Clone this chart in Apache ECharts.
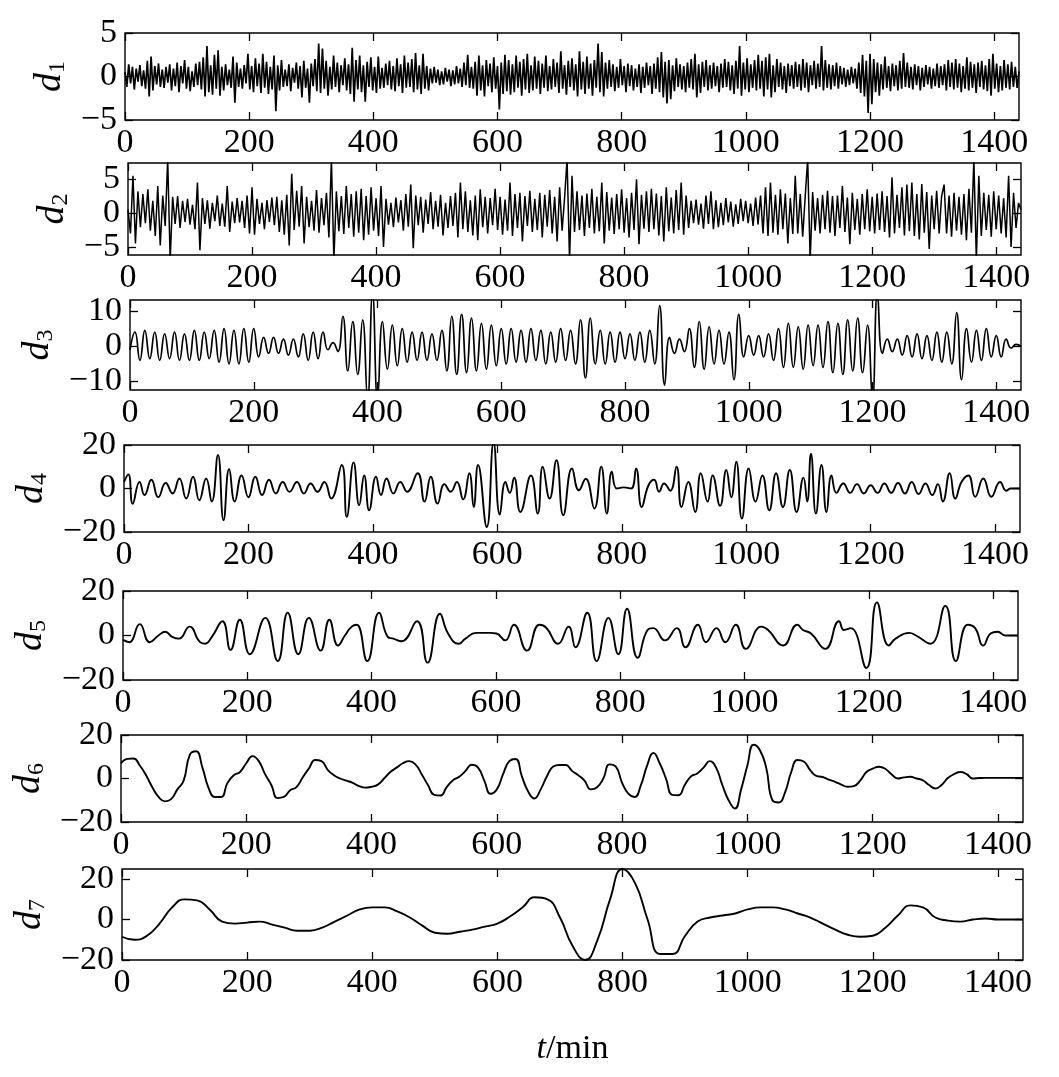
<!DOCTYPE html>
<html><head><meta charset="utf-8">
<script src="https://cdn.jsdelivr.net/npm/echarts@6/dist/echarts.min.js"></script>
<style>html,body{margin:0;padding:0;background:#fff}#c{width:1059px;height:1077px}</style>
</head><body><div id="c"></div>
<script>
// ---------- data ----------
const xTicks = [0,200,400,600,800,1000,1200,1400];
const xMax = 1440;
const yTicks1 = [-5,0,5];
const yTicks2 = [-5,0,5];
const yTicks3 = [-10,0,10];
const yTicks4 = [-20,0,20];
const yTicks5 = [-20,0,20];
const yTicks6 = [-20,0,20];
const yTicks7 = [-20,0,20];
const yRange1 = [-5,5];
const yRange2 = [-6.2,7.4];
const yRange3 = [-12.4,13.1];
const yRange4 = [-20,20];
const yRange5 = [-20,20];
const yRange6 = [-20,20];
const yRange7 = [-20,25];

// d1: one value every 3 min
const d1Step = 3;
const d1 = [
0.5,-1.2,1.4,-0.8,1.1,-1.5,0.9,-0.6,1.3,-1.1,0.7,-1.4,1.8,-2.3,2.3,-1.6,1.2,-0.9,1.5,-1.2,
0.8,-1.3,1.1,-0.7,1.4,-1.6,0.9,-1.1,1.6,-1.8,1.2,-0.8,1.9,-1.4,1.1,-1.7,0.6,-1.2,1.5,-1.0,
1.7,-1.5,2.2,-2.3,3.5,-1.8,1.3,-2.1,2.5,-1.4,3.0,-2.2,1.1,-1.6,1.4,-1.0,0.8,-1.3,2.3,-3.0,
1.6,-1.2,0.9,-1.4,1.3,-0.8,2.6,-1.5,1.2,-1.8,2.1,-1.1,1.5,-1.9,2.6,-1.3,1.7,-2.0,1.1,-1.5,
2.4,-4.0,1.3,-1.6,1.9,-1.2,0.8,-1.1,1.4,-1.7,1.0,-0.7,1.6,-1.4,1.2,-2.4,1.8,-1.3,0.9,-3.0,
1.5,-1.1,2.0,-1.7,3.8,-1.9,3.2,-1.4,1.8,-2.2,1.1,-1.5,2.4,-1.2,1.6,-1.8,1.3,-1.0,2.1,-1.6,
1.4,-2.0,3.3,-2.9,1.9,-1.5,2.4,-1.8,1.3,-2.9,1.7,-1.2,2.2,-1.6,1.1,-1.9,2.3,-1.4,1.0,-1.3,
1.5,-1.0,1.8,-1.5,1.2,-1.7,2.1,-1.1,1.4,-1.9,2.4,-1.3,1.6,-1.2,2.0,-1.8,2.7,-1.5,1.3,-2.0,
2.6,-1.4,1.2,-1.6,0.9,-0.8,1.1,-0.7,0.8,-1.0,0.6,-0.9,1.0,-0.6,0.8,-1.1,0.7,-0.9,1.2,-0.8,
0.9,-1.2,1.6,-1.0,2.5,-1.3,1.1,-1.4,1.7,-2.2,2.4,-1.6,1.3,-2.3,1.9,-1.1,1.5,-1.8,2.2,-1.4,
1.2,-3.8,1.6,-2.0,2.5,-1.7,1.9,-2.1,1.4,-1.8,2.4,-1.3,1.7,-2.2,2.0,-1.5,2.6,-1.9,1.3,-1.6,
2.3,-1.4,1.8,-2.0,1.5,-1.3,2.4,-1.7,1.2,-1.5,2.0,-1.2,1.6,-1.9,2.9,-1.4,1.3,-2.1,1.8,-1.2,
2.1,-1.6,1.4,-2.3,2.9,-1.5,1.7,-2.0,2.3,-1.4,1.5,-2.2,1.9,-1.3,3.8,-1.8,2.8,-2.3,1.6,-1.4,
1.9,-1.2,1.4,-1.7,1.1,-1.3,2.0,-1.0,1.2,-1.8,1.5,-1.1,1.3,-1.6,0.9,-1.2,1.4,-1.9,1.1,-1.3,
1.6,-1.0,1.2,-2.0,1.5,-1.4,2.2,-1.8,2.8,-2.4,1.7,-3.1,1.9,-2.6,1.3,-1.7,2.1,-1.2,1.4,-1.5,
1.2,-1.8,1.6,-1.3,2.0,-1.5,2.6,-2.4,1.4,-1.9,1.7,-1.2,1.9,-1.6,1.3,-1.4,1.6,-1.1,1.2,-1.8,
1.5,-1.3,2.0,-1.2,1.7,-1.6,1.3,-2.0,1.8,-1.4,3.5,-2.2,1.6,-1.5,2.1,-1.8,1.4,-1.3,1.9,-1.6,
2.5,-1.4,1.8,-2.3,2.2,-1.5,2.6,-2.4,1.3,-1.8,2.0,-1.2,1.6,-1.5,1.2,-1.9,1.5,-1.1,1.3,-1.4,
1.7,-1.2,1.4,-1.6,2.0,-1.3,1.6,-1.8,1.3,-1.0,1.8,-1.4,1.5,-1.2,3.5,-1.6,1.9,-1.3,1.4,-1.5,
1.3,-1.1,1.6,-1.4,1.2,-0.9,1.0,-1.2,0.8,-1.0,1.1,-0.8,0.9,-1.4,1.6,-1.9,2.5,-2.3,1.8,-4.2,
2.6,-3.2,2.0,-1.8,1.6,-2.2,1.4,-1.5,2.3,-1.3,1.2,-1.7,1.5,-1.1,1.3,-1.6,1.8,-1.4,2.7,-1.2,
1.6,-1.3,1.1,-1.5,1.4,-1.0,1.2,-1.6,1.0,-1.2,1.3,-0.9,1.1,-1.4,0.9,-1.1,1.5,-1.3,1.2,-1.0,
1.4,-1.6,1.9,-1.2,1.6,-1.5,2.0,-1.3,1.5,-1.8,1.2,-1.4,2.2,-1.6,1.7,-1.3,1.4,-1.9,1.6,-1.2,
1.8,-1.5,1.3,-1.7,2.0,-2.2,2.6,-1.4,1.5,-1.8,1.2,-1.6,1.9,-1.3,1.4,-1.5,1.7,-1.2,1.1,-1.3,
0.6];

// d2: one value every 4 min
const d2Step = 4;
const d2 = [
0.5,-3.0,5.5,-4.5,3.2,-2.1,2.8,-1.5,3.5,-2.6,1.8,-3.4,4.0,-4.8,2.6,
-1.9,8,-7,2.4,-1.6,2.5,-2.2,1.8,-1.3,2.1,-1.7,1.2,-2.4,4.5,-5.5,
2.2,-1.6,1.9,-2.3,1.5,-1.2,2.6,-1.9,1.4,-2.0,4.0,-2.8,1.7,-1.5,2.2,
-1.4,1.8,-2.2,2.6,-3.0,3.8,-3.2,2.1,-1.6,1.5,-2.4,1.9,-1.3,2.3,-1.8,
2.4,-2.8,1.9,-3.2,2.7,-4.8,5.8,-2.5,3.3,-2.0,4.0,-4.5,2.4,-2.1,1.8,
-2.6,3.4,-2.9,2.2,-1.8,3.0,-3.6,8,-7,3.2,-2.7,2.5,-3.1,4.0,-2.2,
2.8,-3.5,3.2,-2.9,3.6,-4.0,2.5,-3.2,3.8,-2.6,2.2,-3.4,4.0,-5.0,2.1,
-1.7,1.5,-2.1,2.3,-1.4,1.9,-2.6,2.8,-2.0,4.2,-5.2,2.6,-1.8,2.4,-2.9,
2.0,-1.6,3.1,-2.4,1.8,-2.0,2.7,-3.3,1.5,-2.2,2.5,-1.9,3.0,-3.6,4.5,
-2.4,3.2,-2.8,1.9,-3.3,2.6,-4.0,3.5,-2.1,2.4,-3.0,2.2,-1.8,3.6,-2.5,
2.4,-3.2,2.0,-2.6,4.5,-3.4,2.8,-2.2,3.0,-4.2,2.5,-1.9,3.3,-2.8,2.1,
-2.5,3.0,-3.6,2.7,-2.0,3.4,-3.0,2.4,-4.2,3.8,-2.6,2.2,8,-7,5.5,
-2.8,3.2,-2.5,2.6,-3.4,2.9,-2.2,3.6,-3.0,2.4,-2.7,4.5,-4.5,3.1,-2.6,
2.3,-3.1,2.8,-2.4,3.5,-2.9,2.2,-3.6,3.0,-2.5,5.0,-4.6,2.7,-2.3,3.2,
-2.8,3.6,-2.4,2.9,-3.3,2.5,-4.2,3.8,-2.7,2.3,-3.0,3.4,-2.5,4.5,-3.2,
2.6,-2.2,1.8,-1.5,2.0,-1.7,1.4,-2.3,2.6,-1.6,3.2,-2.4,1.9,-2.1,1.5,
-1.8,2.2,-1.4,1.7,-2.0,1.3,-1.6,2.1,-1.2,1.8,-1.5,1.4,-1.9,2.3,-1.7,
2.6,-3.0,3.8,-3.4,4.5,-2.9,2.7,-3.2,3.5,-2.4,2.9,-4.5,2.2,-3.1,5.5,
-3.0,2.8,-3.5,2.4,8,-7,3.1,-2.6,2.2,-3.0,2.7,-2.4,3.3,-2.9,2.5,
-3.4,2.6,-2.2,4.0,-2.8,2.3,-4.6,3.0,-2.5,2.1,-3.2,2.8,-2.4,3.5,-2.7,
2.4,-3.0,2.9,-2.5,3.2,-2.8,2.5,-3.6,5.3,-3.0,2.7,-2.2,3.8,-3.3,4.2,
-2.7,4.5,-3.4,2.8,-3.9,4.3,-2.9,3.1,-5.3,2.6,-2.4,3.3,-3.0,2.5,4.2,
-3.0,2.6,-3.5,3.0,-2.6,2.4,-3.2,2.8,-4.0,3.6,-2.9,8,-7,5.5,-3.4,
3.0,-2.5,2.7,-3.5,3.2,-2.4,2.6,-3.0,2.2,-3.6,5.5,-5.0,3.0,-2.2,1.5,
0.5];

// d3: alternating troughs / peaks every 8 min
const d3Step = 8;
const d3 = [
-1,4,-4,4.5,-3.5,4,-4,3.5,-3.5,4,
-4,3.5,-4,4.5,-4,4,-3.5,4.5,-4.5,5,
-5,4.5,-5,5,-4.5,5,-3,2.5,-2,2.5,
-2,2,-2.5,2,-3,3.5,-4,4,-3.5,4,
-1,1,-1.5,8.5,-7,7,-8,7.5,-15,15,
-15,7,-6.5,6,-5.5,5,-4.5,4,-4,4,
-4,3.5,-4,4.5,-7,8.5,-8,9,-7.5,8,
-7,6.5,-6.5,6,-5.5,5,-5,5,-4.5,4.5,
-4.5,5,-4,4.5,-5,4,-4.5,5,-4,4.5,
-5,7.5,-9,8,-5,4.5,-5,4,-4.5,4,
-3.5,3.5,-4,4,-4.5,4.5,-5,11.5,-11,2.5,
-2,2,-1.5,5,-6,7,-6.5,5.5,-5,4.5,
-5,4,-9.5,9,-3,3,-2.5,3,-3,3.5,
-4,5,-6,6.5,-6,5.5,-6.5,6,-5.5,6,
-6,7,-7.5,6.5,-8,7.5,-7,8,-7.5,6,
-15,15,-2,2,-1.5,2,-2.5,3,-3,3.5,
-3.5,3,-4,4,-4.5,4,-5,9.5,-9.5,5,
-4.5,4.5,-4,5,-3,3,-3,2,-0.5,0.5,
0];

// d4: [t, value] at the turning points
const d4 = [
[0,3],[7,6.5],[14,-7],[25,3],[33,-3],[44,4],[55,-4],[67,2.5],[78,-2.3],[89,4.6],
[100,-4.6],[111,5.4],[121,-5.4],[132,4.6],[141,-6],[151,15.4],[160,-14.6],[169,9],[178,-6],[189,6],
[200,-4],[211,5.4],[222,-3],[233,4],[244,-2.3],[255,3],[266,-1.5],[278,3],[289,-2.3],[300,2.3],
[311,-1.5],[322,3],[333,-4.6],[350,10.8],[358,-13],[369,12],[378,-7.7],[386,6],[394,-10],[405,5.4],
[413,-3],[422,4.6],[433,-2.3],[444,3],[455,-1.5],[472,7],[483,-6],[493,5.4],[504,-6.9],[515,2],
[525,-1.5],[535,3],[545,-5],[555,7],[562,-8.5],[569,10.8],[583,-17.7],[594,21],[604,-12],[613,3],
[620,-2],[627,5],[637,-10.8],[654,6],[665,-11.5],[673,10],[684,-4.6],[695,13],[706,-12.3],[720,9.2],
[731,-0.8],[742,4.5],[756,-9.2],[767,10],[776,-11.5],[784,7.7],[792,0],[803,0.5],[815,0],[823,9.2],
[832,-8.5],[843,1.5],[852,4],[860,-1.5],[868,2.3],[878,-1],[888,10],[896,-8.5],[907,3],[918,-10.8],
[927,7],[938,-6],[946,6],[958,-8],[968,8.5],[976,-4],[984,12.3],[993,-13.8],[1004,9.2],[1015,-6],
[1026,6],[1037,-10],[1048,7],[1059,-8.5],[1070,8.5],[1081,-10.8],[1092,5],[1098,-6],[1104,16],[1112,-11.5],
[1121,10.8],[1129,-10.8],[1137,6],[1145,-2],[1156,2.3],[1167,-2],[1178,2],[1189,-2.3],[1200,1.5],[1211,-2],
[1222,2.3],[1233,-2],[1244,2.5],[1255,-2.3],[1266,3],[1277,-2.5],[1288,2.3],[1299,-3],[1308,2],[1316,-6],
[1327,7],[1336,-4.6],[1346,3],[1357,6],[1368,-3.8],[1381,4.6],[1394,-3.8],[1408,3],[1418,-1],[1425,0],
[1440,0]];

// d5: [t, value] at the turning points
const d5 = [
[0,-2],[10,-3],[27,5.1],[43,-3],[57,0],[68,1.7],[79,-0.6],[90,-1.4],[107,4],[124,-3],
[132,-3.7],[143,-0.6],[160,6.4],[173,-6.5],[188,7.1],[204,-8.4],[229,7.9],[249,-11.5],[265,10.2],[282,-8.4],
[299,7.9],[318,-6.8],[332,7.1],[346,-4.5],[357,0],[368,4],[376,4.8],[393,-11.5],[412,10.2],[426,-0.6],
[435,-1.4],[448,-2.6],[473,6.4],[490,-12.2],[510,9.8],[523,0.9],[540,-3.7],[551,-1.4],[568,1.2],[590,1.2],
[601,0.9],[615,-2.2],[629,4.8],[650,-6.8],[670,4.8],[681,3.5],[700,-3.7],[717,4],[728,-5.3],[747,10.2],
[762,-11.5],[781,7.9],[797,-8.4],[811,12],[828,-10],[844,2.5],[853,3.3],[872,-2.2],[891,3.3],[905,-5.3],
[925,4.8],[938,-3],[955,3.3],[969,-3],[986,4.8],[1002,-6],[1027,4],[1038,2.5],[1062,-4.5],[1085,4.8],
[1094,2.5],[1107,0.9],[1130,-6],[1152,6.4],[1160,2.5],[1171,3.3],[1196,-14.6],[1213,14.9],[1232,-4.5],[1243,-1.4],
[1265,1.2],[1276,0],[1299,-3.7],[1323,13.3],[1340,-11.5],[1359,4.8],[1371,3.3],[1384,-4.5],[1396,0.9],[1407,1.7],
[1420,0],[1440,0]];

// d6: one value every 10 min
const d6Step = 10;
const d6 = [
7,9,9.2,6,1.5,-4,-8.5,-10.5,-9.5,-5,
-1,11,12.5,5,-4.5,-8.5,-8.5,-2,1.5,3,
7,10.3,8,2,-3,-9,-8.5,-5.4,-4,0.5,
4.6,8.5,8,4,1.5,0,-1,-2,-3.5,-4.2,
-3.8,-2.8,0,3,5,7,8,6.5,2,-3,
-7.5,-7.8,-4,-0.8,0.8,3.5,6.3,5,-1,-7,
-5,2,8,9,1,-6,-9.2,-5,1,5.5,
6.2,6.2,3.5,1.5,-1,-5,-4,0,6.5,5.5,
-2,-7,-8.5,-3,6,11.8,7,0,-7.5,-7.7,
-3,1,2.3,5,8,5,-3,-10,-13.8,-5,
6,15.5,13,5,-10,-11,-6.5,3,8.5,7.8,
4,1.2,0.7,-0.5,-1.5,-2.8,-3.8,-3.5,-1,3,
4.5,5.4,4.5,2,0,0.5,0.8,0,-0.8,-3,
-4.6,-3,0.2,2,3,2,0,0.2,0.3,0.3,
0.3,0.3,0.3,0.3,0.3];

// d7: one value every 20 min
const d7Step = 20;
const d7 = [
-8.5,-10,-8,-2,6,10,9.5,5,-1,-2,
-1.5,-1,-2.5,-4,-5.5,-5.5,-4,-1,2,5,
6,6,4,1,-3,-6.5,-7,-6,-5,-3.5,
-2,1.5,6,11,10,1,-13,-20,-10,10,
25,18,0,-17,-17,-8,-1,1,2,3,
5,6,6,5,3,1,-2,-5,-7.5,-8.5,
-8,-4,2,7,6,1,-0.5,-1,0,0.5,
0,0,0];

// ---------- chart ----------
const FONT = '"Liberation Serif", "Times New Roman", serif';
const stepped = (arr, step) => arr.map((v, i) => [i * step, v]);
const seriesData = [stepped(d1,d1Step), stepped(d2,d2Step), stepped(d3,d3Step), d4, d5, stepped(d6,d6Step), stepped(d7,d7Step)];
const yRanges = [yRange1,yRange2,yRange3,yRange4,yRange5,yRange6,yRange7];
const yTickSets = [yTicks1,yTicks2,yTicks3,yTicks4,yTicks5,yTicks6,yTicks7];
const layout = [
  {left:125, top:33,  width:894, height:87, gap:45, lw:1.7, smooth:false},
  {left:128, top:163, width:893, height:92, gap:45, lw:1.5, smooth:false},
  {left:130, top:300, width:891, height:90, gap:58, lw:1.7, smooth:0.5},
  {left:124, top:445, width:896, height:87, gap:59, lw:1.9, smooth:0.5},
  {left:123, top:591, width:895, height:89, gap:59, lw:1.9, smooth:0.5},
  {left:121, top:735, width:902, height:87, gap:59, lw:1.9, smooth:0.5},
  {left:122, top:869, width:901, height:91, gap:59, lw:1.9, smooth:0.5}
];
const fmt = v => (v < 0 ? '\u2212' + Math.abs(v) : String(v));
const tickStyle = {color:'#000', width:1.3};
const labelStyle = {color:'#000', fontSize:34, fontFamily:FONT};

const grids = [], xAxes = [], yAxes = [], series = [];
layout.forEach((L, p) => {
  grids.push({left:L.left, top:L.top, width:L.width, height:L.height, show:true,
    borderColor:'#000', borderWidth:1.4, backgroundColor:'rgba(0,0,0,0)'});
  const xc = {type:'value', gridIndex:p, min:0, max:xMax, splitLine:{show:false},
    axisLine:{show:false, onZero:false}};
  const xb = Object.assign({}, xc, {position:'bottom',
    axisTick:{show:true, inside:true, length:8, lineStyle:tickStyle, customValues:xTicks},
    axisLabel:Object.assign({show:true, margin:6, customValues:xTicks, formatter:fmt}, labelStyle)});
  if (p === 6) {
    Object.assign(xb, {name:'{i|t}{n|/min}', nameLocation:'middle', nameGap:72,
      nameTextStyle:{rich:{
        i:{fontSize:34, fontStyle:'italic', fontFamily:FONT, color:'#000'},
        n:{fontSize:34, fontFamily:FONT, color:'#000'}}}});
  }
  xAxes.push(xb);
  xAxes.push(Object.assign({}, xc, {position:'top',
    axisTick:{show:true, inside:true, length:8, lineStyle:tickStyle, customValues:xTicks},
    axisLabel:{show:false}}));
  const yc = {type:'value', gridIndex:p, min:yRanges[p][0], max:yRanges[p][1],
    splitLine:{show:false}, axisLine:{show:false, onZero:false}};
  yAxes.push(Object.assign({}, yc, {position:'left',
    axisTick:{show:true, inside:true, length:8, lineStyle:tickStyle, customValues:yTickSets[p]},
    axisLabel:Object.assign({show:true, margin:8, customValues:yTickSets[p], formatter:fmt}, labelStyle),
    name:'{d|d}{s|' + (p + 1) + '}', nameLocation:'middle', nameRotate:90, nameGap:L.gap,
    nameTextStyle:{rich:{
      d:{fontSize:38, fontStyle:'italic', fontFamily:FONT, color:'#000'},
      s:{fontSize:24, fontFamily:FONT, color:'#000', padding:[16,0,0,0]}}}}));
  yAxes.push(Object.assign({}, yc, {position:'right',
    axisTick:{show:true, inside:true, length:8, lineStyle:tickStyle, customValues:yTickSets[p]},
    axisLabel:{show:false}}));
  series.push({type:'line', xAxisIndex:2*p, yAxisIndex:2*p, data:seriesData[p],
    showSymbol:false, symbol:'none', smooth:L.smooth, clip:true,
    lineStyle:{color:'#000', width:L.lw}, animation:false});
});

const chart = echarts.init(document.getElementById('c'), null, {renderer:'canvas'});
chart.setOption({backgroundColor:'#fff', animation:false, grid:grids, xAxis:xAxes, yAxis:yAxes, series:series});
</script>
</body></html>
